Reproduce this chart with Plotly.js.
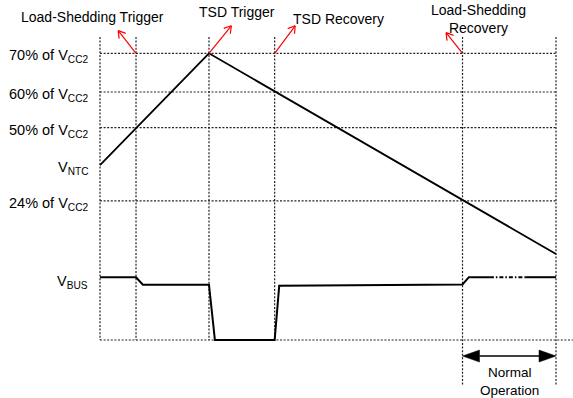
<!DOCTYPE html>
<html>
<head>
<meta charset="utf-8">
<script src="https://cdn.plot.ly/plotly-3.0.1.min.js"></script>
<style>html,body{margin:0;padding:0;background:#fff}#chart{width:573px;height:398px}</style>
</head>
<body>
<div id="chart"></div>
<script>
// ---- schematic data (time in % of window, level in schematic units; 0 = V_BUS low) ----
const eventNames = ["Start", "Load-Shedding Trigger", "TSD Trigger", "TSD Recovery", "Load-Shedding Recovery", "End"];
const eventTimes = [0, 7.9, 23.9, 38.3, 79.5, 100];
const eventLineTop = [105.7, 105.7, 105.7, 105.7, 105.7, 105.7];
const eventLineBottom = [0, 0, 0, 0, -16, -16];

const levelLabels = ["70% of V<sub>CC2</sub>", "60% of V<sub>CC2</sub>", "50% of V<sub>CC2</sub>", "24% of V<sub>CC2</sub>"];
const levelValues = [100, 86.5, 74.05, 48.5];
const gridEnd = 100.2;
const baseLineEnd = 103.7;

const ntcTime = [0, 23.9, 100];
const ntcLevel = [61, 100, 30];
const ntcLabel = "V<sub>NTC</sub>";
const ntcLabelLevel = 61;

const busTime = [0, 7.9, 9.4, 23.9, 25.2, 38.3, 39.3, 79.5, 80.9, 85.5];
const busLevel = [21.9, 21.9, 19.3, 19.3, 0, 0, 18.9, 19.4, 21.9, 21.9];
const busDotTime = [85.5, 93.4];
const busDotLevel = [21.9, 21.9];
const busEndTime = [93.4, 100];
const busEndLevel = [21.9, 21.9];
const busLabel = "V<sub>BUS</sub>";
const busLabelLevel = 21.2;

// red pointer arrows: tail on the 70% line at each event, head toward its label
const pointerTailTime = [7.9, 23.9, 38.3, 79.5];
const pointerHeadTime = [4.0, 28.8, 42.8, 75.9];
const pointerHeadLevel = [107.9, 109.6, 109.6, 107.2];

const eventLabels = ["Load-Shedding Trigger", "TSD Trigger", "TSD Recovery", "Load-Shedding<br>Recovery"];
const eventLabelTime = [-1.75, 30.15, 52.3, 83.1];
const eventLabelLevel = [112.6, 114.3, 112.0, 111.9];

const normalOpStart = 79.5, normalOpEnd = 100, normalOpLevel = -5.6;
const normalOpLabel = "Normal<br>Operation";
const normalOpLabelTime = 89.7, normalOpLabelLevel = -14.4;

// ---- geometry (pixels per unit) ----
const W = 573, H = 398;
const pxX = 4.56, originX = 100;   // time 0 at pixel 100
const pxY = 2.867, originY = 340;  // level 0 at pixel 340
const xRange = [-originX / pxX, (W - originX) / pxX];
const yRange = [(originY - H) / pxY, originY / pxY];

const FONT = "Liberation Sans, Arial, sans-serif";
const gridLine = {color: "#222", width: 1.2, dash: "2px,1.6px"};
const labelShift = 1.0; // left labels sit slightly below their level line

const traces = [];
// horizontal level grid lines
{
  const xs = [], ys = [];
  levelValues.forEach(v => { xs.push(eventTimes[0], gridEnd, null); ys.push(v, v, null); });
  xs.push(eventTimes[0], baseLineEnd); ys.push(0, 0);
  traces.push({x: xs, y: ys, mode: "lines", line: gridLine, hoverinfo: "skip"});
}
// vertical event lines
{
  const xs = [], ys = [];
  eventTimes.forEach((t, i) => { xs.push(t, t, null); ys.push(eventLineTop[i], eventLineBottom[i], null); });
  traces.push({x: xs, y: ys, mode: "lines", line: gridLine, hoverinfo: "skip"});
}
// V_NTC
traces.push({x: ntcTime, y: ntcLevel, mode: "lines", line: {color: "#000", width: 1.8}, hoverinfo: "skip"});
// V_BUS
traces.push({x: busTime, y: busLevel, mode: "lines", line: {color: "#000", width: 2}, hoverinfo: "skip"});
traces.push({x: busDotTime, y: busDotLevel, mode: "lines", line: {color: "#000", width: 2, dash: "4px,2px,1.5px,2px"}, hoverinfo: "skip"});
traces.push({x: busEndTime, y: busEndLevel, mode: "lines", line: {color: "#000", width: 2}, hoverinfo: "skip"});
// red pointer arrows (shaft + open chevron head)
{
  const xs = [], ys = [];
  const arm = 8, ang = 32 * Math.PI / 180;
  pointerTailTime.forEach((t, i) => {
    const tx = t, ty = levelValues[0], hx = pointerHeadTime[i], hy = pointerHeadLevel[i];
    xs.push(tx, hx, null); ys.push(ty, hy, null);
    // direction in pixel space (screen y downwards)
    const dx = (tx - hx) * pxX, dy = -(ty - hy) * pxY;
    const len = Math.hypot(dx, dy), ux = dx / len, uy = dy / len;
    [ang, -ang].forEach(a => {
      const rx = ux * Math.cos(a) - uy * Math.sin(a), ry = ux * Math.sin(a) + uy * Math.cos(a);
      xs.push(hx, hx + rx * arm / pxX, null); ys.push(hy, hy - ry * arm / pxY, null);
    });
  });
  traces.push({x: xs, y: ys, mode: "lines", line: {color: "#ff0000", width: 1.2}, hoverinfo: "skip"});
}
// Normal operation double arrow
{
  const headL = 17 / pxX, headH = 6 / pxY;
  traces.push({x: [normalOpStart + headL, normalOpEnd - headL], y: [normalOpLevel, normalOpLevel],
    mode: "lines", line: {color: "#000", width: 1.6}, hoverinfo: "skip"});
  traces.push({x: [normalOpStart, normalOpStart + headL, normalOpStart + headL, normalOpStart],
    y: [normalOpLevel, normalOpLevel + headH, normalOpLevel - headH, normalOpLevel],
    mode: "lines", fill: "toself", fillcolor: "#000", line: {color: "#000", width: 0.5}, hoverinfo: "skip"});
  traces.push({x: [normalOpEnd, normalOpEnd - headL, normalOpEnd - headL, normalOpEnd],
    y: [normalOpLevel, normalOpLevel + headH, normalOpLevel - headH, normalOpLevel],
    mode: "lines", fill: "toself", fillcolor: "#000", line: {color: "#000", width: 0.5}, hoverinfo: "skip"});
}

const annotations = [];
const labelX = -10 / pxX;
levelLabels.forEach((t, i) => annotations.push({x: labelX, y: levelValues[i] - labelShift, text: t, showarrow: false,
  xanchor: "right", yanchor: "middle", font: {size: 14.5, color: "#000", family: FONT}}));
annotations.push({x: labelX, y: ntcLabelLevel - labelShift, text: ntcLabel, showarrow: false, xanchor: "right", yanchor: "middle",
  font: {size: 14.5, color: "#000", family: FONT}});
annotations.push({x: labelX, y: busLabelLevel - labelShift, text: busLabel, showarrow: false, xanchor: "right", yanchor: "middle",
  font: {size: 14.5, color: "#000", family: FONT}});
eventLabels.forEach((t, i) => annotations.push({x: eventLabelTime[i], y: eventLabelLevel[i], text: t, showarrow: false,
  xanchor: "center", yanchor: "middle", font: {size: 14, color: "#000", family: FONT}}));
annotations.push({x: normalOpLabelTime, y: normalOpLabelLevel, text: normalOpLabel, showarrow: false,
  xanchor: "center", yanchor: "middle", font: {size: 13.5, color: "#000", family: FONT}});

const layout = {
  width: W, height: H, margin: {l: 0, r: 0, t: 0, b: 0},
  paper_bgcolor: "#fff", plot_bgcolor: "#fff", showlegend: false,
  xaxis: {range: xRange, visible: false, fixedrange: true},
  yaxis: {range: yRange, visible: false, fixedrange: true},
  annotations: annotations,
  font: {family: FONT}
};
Plotly.newPlot("chart", traces, layout, {staticPlot: true, displayModeBar: false});
</script>
</body>
</html>
